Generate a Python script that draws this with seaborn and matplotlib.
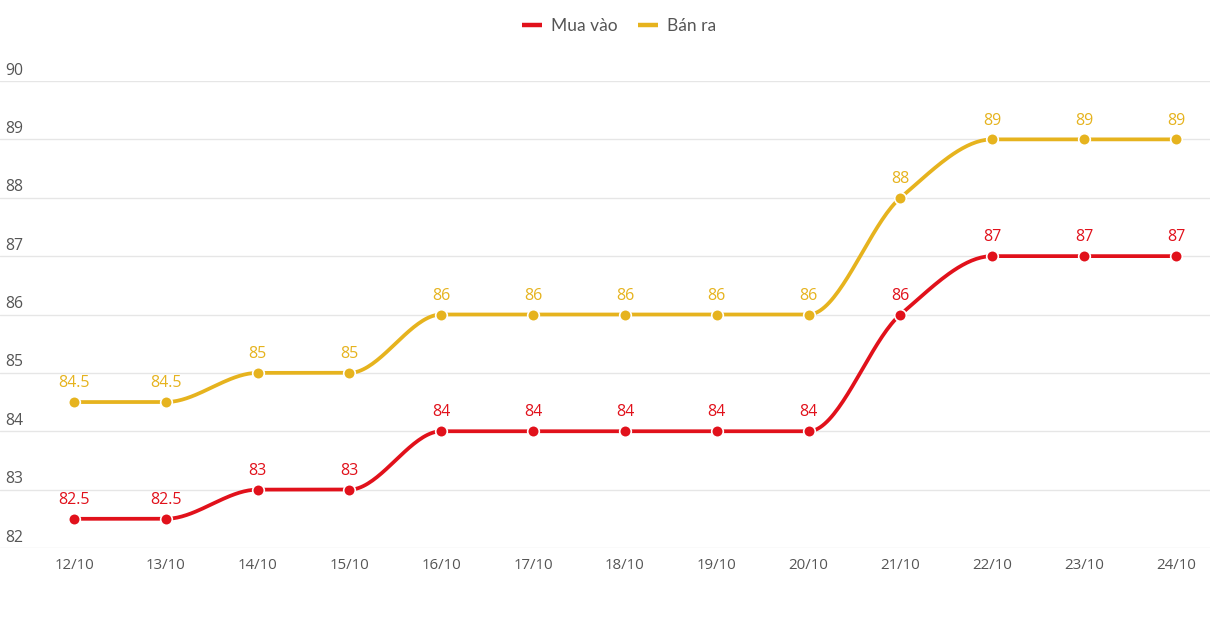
import numpy as np
import pandas as pd
import seaborn as sns
import matplotlib
matplotlib.use("Agg")
import matplotlib.pyplot as plt
from matplotlib.lines import Line2D
import matplotlib.transforms as mtransforms

dates = ["12/10", "13/10", "14/10", "15/10", "16/10", "17/10", "18/10",
         "19/10", "20/10", "21/10", "22/10", "23/10", "24/10"]
mua_vao = [82.5, 82.5, 83, 83, 84, 84, 84, 84, 84, 86, 87, 87, 87]
ban_ra = [84.5, 84.5, 85, 85, 86, 86, 86, 86, 86, 88, 89, 89, 89]
y_ticks = [82, 83, 84, 85, 86, 87, 88, 89, 90]

RED = "#E1111B"
GOLD = "#E6B31E"

sns.set_theme(style="white")
plt.rcParams["font.family"] = ["Open Sans", "DejaVu Sans"]


def monotone_curve(y, n=40):
    """Fritsch-Carlson monotone cubic rendering of a line through the points."""
    y = np.asarray(y, float)
    x = np.arange(len(y), dtype=float)
    d = np.diff(y)
    m = np.zeros_like(y)
    m[0], m[-1] = d[0], d[-1]
    for i in range(1, len(y) - 1):
        if d[i - 1] * d[i] <= 0:
            m[i] = 0
        else:
            m[i] = 2 / (1 / d[i - 1] + 1 / d[i])
    xs, ys = [], []
    for i in range(len(y) - 1):
        t = np.linspace(0, 1, n, endpoint=(i == len(y) - 2))
        h00 = 2 * t**3 - 3 * t**2 + 1
        h10 = t**3 - 2 * t**2 + t
        h01 = -2 * t**3 + 3 * t**2
        h11 = t**3 - t**2
        xs.append(x[i] + t)
        ys.append(h00 * y[i] + h10 * m[i] + h01 * y[i + 1] + h11 * m[i + 1])
    return np.concatenate(xs), np.concatenate(ys)


fig = plt.figure(figsize=(12.1, 6.2), dpi=100)
ax = fig.add_axes([0, 1 - 548 / 620, 1, (548 - 81) / 620])

pts = pd.DataFrame({"x": np.arange(len(dates)), "mua": mua_vao, "ban": ban_ra})

for col, color in [("ban", GOLD), ("mua", RED)]:
    cx, cy = monotone_curve(pts[col])
    sns.lineplot(x=cx, y=cy, ax=ax, color=color, linewidth=2.7, sort=False,
                 estimator=None, zorder=3)
    sns.scatterplot(data=pts, x="x", y=col, ax=ax, color=color, s=70,
                    edgecolor="white", linewidth=1.2, zorder=4)
    for xi, v in zip(pts["x"], pts[col]):
        lab = f"{v:g}"
        ax.annotate(lab, (xi, v), xytext=(0, 13.5), textcoords="offset points",
                    ha="center", va="center", color=color, fontsize=11.5)

x0 = -74 / 91.83
x1 = (1210 - 74) / 91.83
ax.set_xlim(x0, x1)
ax.set_ylim(82, 90)
ax.set_xticks(range(len(dates)))
ax.set_xticklabels(dates, fontsize=10.8, color="#555555")
ax.tick_params(axis="x", length=0, pad=7)
ax.set_yticks(y_ticks)
ax.set_yticklabels([])
ax.tick_params(axis="y", length=0)
ax.grid(axis="y", color="#e6e6e6", linewidth=1)
ax.set_xlabel("")
ax.set_ylabel("")
for s in ax.spines.values():
    s.set_visible(False)

trans = mtransforms.blended_transform_factory(ax.transAxes, ax.transData)
for t in y_ticks:
    ax.annotate(str(t), (0.004, t), xycoords=trans, xytext=(0, 7.5),
                textcoords="offset points", ha="left", va="center",
                fontsize=11.3, color="#555555")

handles = [Line2D([0], [0], color=RED, lw=3.2, solid_capstyle="butt"),
           Line2D([0], [0], color=GOLD, lw=3.2, solid_capstyle="butt")]
fig.legend(handles, ["Mua vào", "Bán ra"], loc="center",
           bbox_to_anchor=(619 / 1210, 1 - 26 / 620),
           ncol=2, frameon=False, handlelength=1.15, columnspacing=1.15,
           handletextpad=0.55, prop={"family": "Lato", "size": 12.5},
           labelcolor="#555555")

fig.savefig("out.png", dpi=100)
